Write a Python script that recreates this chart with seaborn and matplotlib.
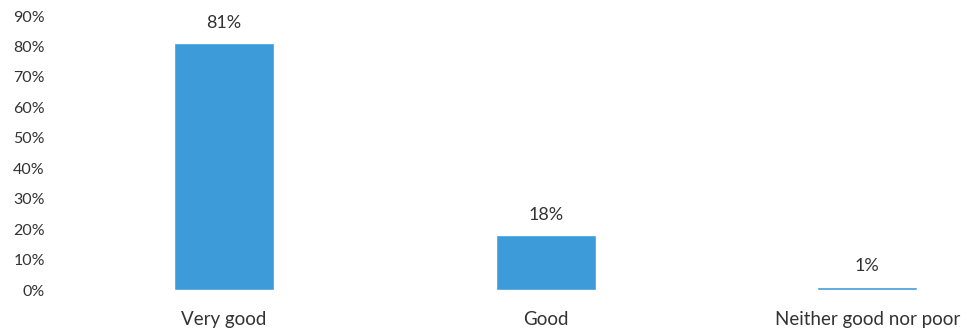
import matplotlib
matplotlib.use("Agg")
import matplotlib.pyplot as plt
import seaborn as sns
import pandas as pd
from matplotlib.ticker import PercentFormatter

categories = ["Very good", "Good", "Neither good nor poor"]
shares = [0.81, 0.18, 0.01]
value_labels = ["81%", "18%", "1%"]

sns.set_theme(style="white")
plt.rcParams["font.family"] = ["Lato", "DejaVu Sans"]

df = pd.DataFrame({"category": categories, "share": shares})

fig = plt.figure(figsize=(9.67, 3.32), dpi=100)
ax = fig.add_axes([60 / 967, 1 - 290 / 332, 1 - 60 / 967, (290 - 16) / 332])

sns.barplot(data=df, x="category", y="share", color="#3d9bd9", saturation=1,
            width=0.31, ax=ax)

ax.set_ylim(0, 0.9)
ax.set_xlim(-0.51, 2.31)
ax.set_yticks([i / 10 for i in range(10)])
ax.yaxis.set_major_formatter(PercentFormatter(1.0, decimals=0))
ax.set_xlabel("")
ax.set_ylabel("")
for s in ax.spines.values():
    s.set_visible(False)
ax.tick_params(axis="both", length=0, colors="#333333")
ax.tick_params(axis="y", pad=11, labelsize=11.5)
ax.tick_params(axis="x", pad=15, labelsize=13.5)

for i, (v, lab) in enumerate(zip(shares, value_labels)):
    ax.annotate(lab, (i, v), xytext=(0, 9), textcoords="offset points",
                ha="center", va="bottom", fontsize=13, color="#333333")

fig.savefig("out.png", dpi=100)
